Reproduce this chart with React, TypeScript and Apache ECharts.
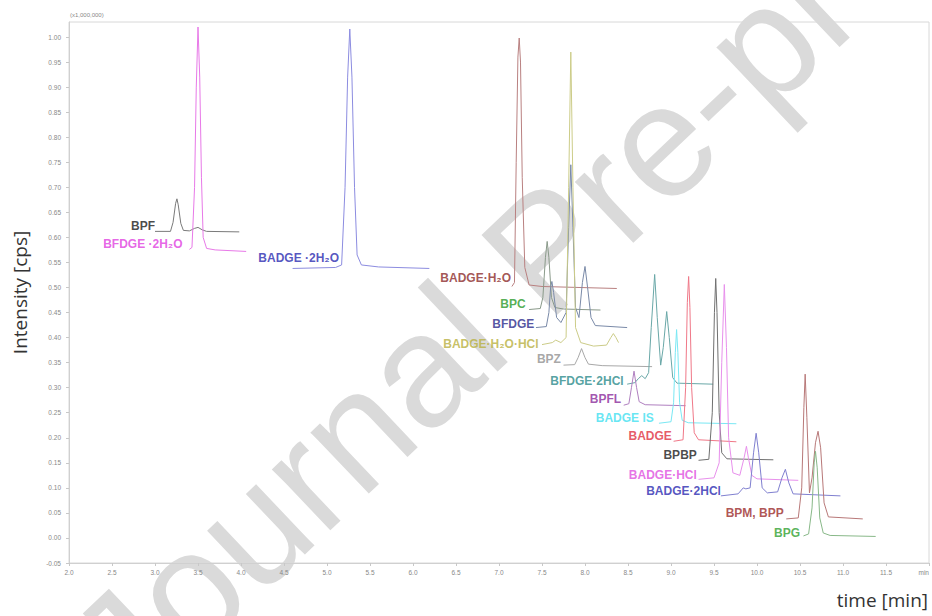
import React, { useEffect, useRef } from "react";
import * as echarts from "echarts";

// ---- data: each trace is [time (min), intensity (x1,000,000 cps)] ----
const BPF = [[3.00,0.612],[3.18,0.612],[3.21,0.630],[3.24,0.668],[3.255,0.677],[3.27,0.665],[3.30,0.628],[3.33,0.614],[3.40,0.613],[3.46,0.618],[3.50,0.620],[3.55,0.615],[3.60,0.612],[3.98,0.611]];
const BFDGE_2H2O = [[3.40,0.576],[3.43,0.580],[3.46,0.70],[3.48,0.90],[3.50,1.02],[3.52,0.92],[3.54,0.72],[3.56,0.60],[3.60,0.578],[3.70,0.575],[4.06,0.572]];
const BADGE_2H2O = [[4.60,0.538],[5.10,0.540],[5.17,0.545],[5.21,0.70],[5.24,0.92],[5.265,1.016],[5.29,0.92],[5.32,0.70],[5.35,0.565],[5.40,0.545],[5.60,0.541],[6.19,0.538]];
const BADGE_H2O = [[7.15,0.502],[7.18,0.51],[7.20,0.75],[7.22,0.96],[7.235,0.998],[7.25,0.95],[7.27,0.72],[7.30,0.54],[7.35,0.505],[7.50,0.502],[8.37,0.498]];
const BPC = [[7.35,0.456],[7.48,0.458],[7.51,0.48],[7.54,0.56],[7.56,0.592],[7.58,0.56],[7.61,0.48],[7.65,0.46],[7.75,0.457],[8.18,0.455]];
const BFDGE = [[7.43,0.42],[7.55,0.422],[7.58,0.45],[7.60,0.50],[7.615,0.512],[7.635,0.49],[7.67,0.44],[7.72,0.43],[7.78,0.45],[7.81,0.62],[7.835,0.745],[7.86,0.62],[7.89,0.46],[7.93,0.44],[7.97,0.51],[8.00,0.542],[8.03,0.50],[8.07,0.44],[8.12,0.424],[8.49,0.42]];
const BADGE_H2O_HCL = [[7.50,0.386],[7.62,0.39],[7.66,0.395],[7.72,0.39],[7.78,0.40],[7.81,0.70],[7.835,0.970],[7.86,0.70],[7.89,0.42],[7.95,0.39],[8.10,0.383],[8.25,0.385],[8.30,0.40],[8.33,0.408],[8.36,0.40],[8.39,0.39]];
const BPZ = [[7.75,0.345],[7.88,0.346],[7.92,0.36],[7.96,0.378],[8.00,0.36],[8.04,0.347],[8.20,0.344],[8.78,0.342]];
const BFDGE_2HCL = [[8.49,0.307],[8.58,0.310],[8.62,0.318],[8.66,0.324],[8.70,0.318],[8.74,0.33],[8.77,0.42],[8.81,0.526],[8.84,0.44],[8.88,0.345],[8.91,0.38],[8.95,0.452],[8.98,0.40],[9.02,0.32],[9.07,0.309],[9.49,0.307]];
const BPFL = [[8.45,0.265],[8.51,0.268],[8.54,0.30],[8.57,0.333],[8.60,0.30],[8.63,0.272],[8.70,0.266],[9.17,0.264]];
const BADGE_IS = [[8.86,0.229],[9.00,0.232],[9.03,0.27],[9.05,0.37],[9.065,0.416],[9.08,0.37],[9.10,0.27],[9.13,0.235],[9.20,0.23],[9.76,0.228]];
const BADGE = [[9.03,0.193],[9.14,0.196],[9.17,0.30],[9.19,0.47],[9.205,0.522],[9.22,0.46],[9.24,0.30],[9.27,0.21],[9.32,0.196],[9.76,0.192]];
const BPBP = [[9.32,0.155],[9.44,0.157],[9.48,0.25],[9.505,0.45],[9.52,0.518],[9.535,0.45],[9.56,0.25],[9.59,0.17],[9.65,0.158],[10.19,0.156]];
const BADGE_HCL = [[9.32,0.117],[9.50,0.12],[9.56,0.15],[9.59,0.35],[9.62,0.506],[9.645,0.38],[9.67,0.20],[9.72,0.13],[9.80,0.125],[9.85,0.16],[9.877,0.183],[9.90,0.16],[9.94,0.125],[10.00,0.118],[10.48,0.115]];
const BADGE_2HCL = [[9.58,0.084],[9.78,0.088],[9.84,0.10],[9.87,0.098],[9.92,0.10],[9.96,0.17],[9.99,0.209],[10.02,0.17],[10.06,0.10],[10.12,0.09],[10.24,0.092],[10.29,0.12],[10.33,0.137],[10.37,0.11],[10.42,0.088],[10.97,0.084]];
const BPM_BPP = [[10.34,0.038],[10.48,0.04],[10.52,0.10],[10.545,0.26],[10.56,0.327],[10.58,0.24],[10.61,0.09],[10.64,0.12],[10.68,0.19],[10.71,0.213],[10.74,0.18],[10.78,0.07],[10.83,0.042],[11.23,0.038]];
const BPG = [[10.54,0.004],[10.60,0.008],[10.64,0.06],[10.665,0.15],[10.68,0.173],[10.70,0.14],[10.73,0.04],[10.77,0.01],[10.85,0.005],[11.38,0.003]];

const traces = [BPF, BFDGE_2H2O, BADGE_2H2O, BADGE_H2O, BPC, BFDGE, BADGE_H2O_HCL, BPZ, BFDGE_2HCL, BPFL, BADGE_IS, BADGE, BPBP, BADGE_HCL, BADGE_2HCL, BPM_BPP, BPG];

const compoundNames = ["BPF", "BFDGE ·2H₂O", "BADGE ·2H₂O", "BADGE·H₂O", "BPC", "BFDGE", "BADGE·H₂O·HCl", "BPZ", "BFDGE·2HCl", "BPFL", "BADGE IS", "BADGE", "BPBP", "BADGE·HCl", "BADGE·2HCl", "BPM, BPP", "BPG"];

// label anchor (right end, vertical middle) in data coordinates
const labelTimes = [3.00, 3.32, 5.14, 7.14, 7.31, 7.41, 7.46, 7.72, 8.45, 8.42, 8.80, 9.01, 9.30, 9.30, 9.58, 10.31, 10.50];
const labelValues = [0.623, 0.586, 0.558, 0.518, 0.468, 0.428, 0.388, 0.357, 0.313, 0.277, 0.239, 0.203, 0.165, 0.125, 0.094, 0.050, 0.010];

const lineColors = ["#7a7a7a", "#e879e8", "#8c8ce0", "#b98080", "#8a9a8a", "#7a8aa8", "#cccc88", "#a8a8a8", "#6aa8a8", "#b080c0", "#7ae8f4", "#f07888", "#707070", "#e890ec", "#8080d0", "#b87878", "#88b888"];
const labelColors = ["#1a1a1a", "#e040e0", "#2a2ab0", "#8b2a2a", "#2a9a2a", "#2a2a8a", "#b8b040", "#909090", "#2a8a8a", "#8a2a9a", "#40e0f0", "#e03040", "#1a1a1a", "#e050e0", "#2a2ab0", "#9a2a2a", "#30a030"];

const X_MIN = 2;
const X_MAX = 12;
const X_STEP = 0.5;
const Y_MIN = -0.05;
const Y_MAX = 1.03;
const Y_STEP = 0.05;

export default function App() {
  const ref = useRef<HTMLDivElement>(null);

  useEffect(() => {
    if (!ref.current) return;
    const chart = echarts.init(ref.current, null, { renderer: "svg" });

    const series: any[] = traces.map((d, i) => ({
      type: "line",
      name: compoundNames[i],
      data: d,
      showSymbol: false,
      symbol: "none",
      smooth: false,
      silent: true,
      z: 3,
      lineStyle: { color: lineColors[i], width: 1 },
      itemStyle: { color: lineColors[i] },
    }));

    series.push({
      type: "scatter",
      name: "labels",
      silent: true,
      z: 5,
      symbol: "circle",
      symbolSize: 0.001,
      itemStyle: { color: "transparent" },
      data: labelTimes.map((t, i) => ({
        value: [t, labelValues[i]],
        name: compoundNames[i],
        label: { color: labelColors[i] },
      })),
      label: {
        show: true,
        position: "left",
        distance: 0,
        formatter: (p: any) => p.name,
        fontFamily: "Liberation Sans, Arial, sans-serif",
        fontWeight: "bold",
        fontSize: 12,
      },
    });

    chart.setOption({
      animation: false,
      backgroundColor: "#ffffff",
      grid: {
        left: 69,
        right: 3,
        top: 22,
        bottom: 53,
        show: true,
        borderColor: "#d8d8d8",
        borderWidth: 1,
      },
      xAxis: {
        type: "value",
        min: X_MIN,
        max: X_MAX,
        interval: X_STEP,
        axisLine: { show: true, onZero: false, lineStyle: { color: "#d0d0d0" } },
        axisTick: { show: true, length: 3, lineStyle: { color: "#c8c8c8" } },
        splitLine: { show: false },
        axisLabel: {
          fontSize: 6.5,
          color: "#888",
          margin: 6,
          alignMaxLabel: "right",
          formatter: (v: number) => (v >= X_MAX ? "min" : v.toFixed(1)),
        },
      },
      yAxis: {
        type: "value",
        min: Y_MIN,
        max: Y_MAX,
        interval: Y_STEP,
        axisLine: { show: true, lineStyle: { color: "#d0d0d0" } },
        axisTick: { show: true, length: 3, lineStyle: { color: "#c8c8c8" } },
        splitLine: { show: false },
        axisLabel: {
          fontSize: 6.5,
          color: "#888",
          margin: 8,
          showMaxLabel: false,
          formatter: (v: number) => v.toFixed(2),
        },
        name: "Intensity [cps]",
        nameLocation: "middle",
        nameGap: 40,
        nameTextStyle: { fontFamily: "Open Sans", fontSize: 19, color: "#333" },
      },
      graphic: [
        {
          type: "text",
          z: 0,
          silent: true,
          x: 545,
          y: 250,
          rotation: (43.5 * Math.PI) / 180,
          style: {
            text: "Journal Pre-proof",
            fill: "#dadada",
            font: "160px 'Liberation Sans', Arial, sans-serif",
            textAlign: "center",
            textVerticalAlign: "middle",
          },
        },
        {
          type: "text",
          x: 70,
          y: 15,
          style: {
            text: "(x1,000,000)",
            fill: "#888",
            font: "6px 'Liberation Sans', Arial, sans-serif",
            textAlign: "left",
            textVerticalAlign: "middle",
          },
        },
        {
          type: "text",
          x: 928,
          y: 600,
          style: {
            text: "time [min]",
            fill: "#333",
            font: "19px 'Open Sans', sans-serif",
            textAlign: "right",
            textVerticalAlign: "middle",
          },
        },
      ],
      series,
    });

    return () => chart.dispose();
  }, []);

  return (
    <div
      ref={ref}
      style={{ position: "absolute", left: 0, top: 0, width: 932, height: 616 }}
    />
  );
}
